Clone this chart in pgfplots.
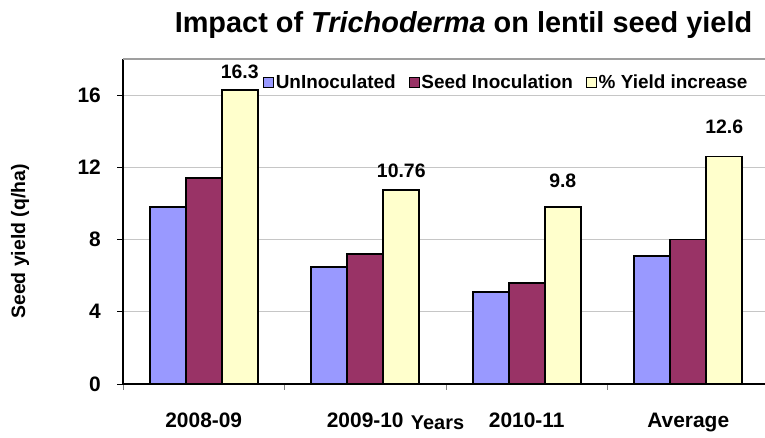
\documentclass[border=0pt]{standalone}
\usepackage{pgfplots}
\pgfplotsset{compat=1.18}
\usepackage{pgfplotstable}
\usepackage{fontspec}
\setmainfont{Liberation Sans}
\definecolor{cblue}{HTML}{9999FF}
\definecolor{cred}{HTML}{993366}
\definecolor{cyel}{HTML}{FFFFCC}
\pgfplotsset{mylegend/.style={legend image code/.code={\draw[##1,line width=0.8bp] (0bp,-5bp) rectangle (10bp,5bp);}}}
\pgfplotstableread{
x y
0 9.8
1 6.5
2 5.1
3 7.1
}\unino
\pgfplotstableread{
x y
0 11.4
1 7.2
2 5.6
3 8.0
}\seedino
\pgfplotstableread{
x y off
0 16.3 11.6
1 10.76 12.7
2 9.8 20
3 12.6 23
}\yieldinc
\begin{document}
\begin{tikzpicture}[x=1bp,y=1bp]
\path[use as bounding box] (0,0) rectangle (765,438);
\begin{axis}[
  at={(123bp,54bp)}, anchor=south west,
  scale only axis, width=646bp, height=325bp,
  xmin=-0.5, xmax=3.5, ymin=0, ymax=18,
  axis lines*=left,
  axis line style={line width=1.5bp, black},
  /pgf/number format/assume math mode=true,
  ybar, bar width=36bp,
  xtick={-0.5,0.5,1.5,2.5,3.5}, xticklabels={},
  extra x ticks={0,1,2,3},
  extra x tick labels={2008-09,2009-10,2010-11,Average},
  extra x tick style={major tick length=0pt, grid=none,
    xticklabel style={anchor=base, yshift=-44bp}},
  x tick style={gray, line width=0.8bp},
  ytick={0,4,8,12,16},
  y tick style={black, line width=0.8bp},
  ymajorgrids, grid style={gray!45, line width=0.6bp},
  tick align=outside, major tick length=6bp,
  ticklabel style={font=\bfseries\fontsize{21}{21}\selectfont},
  yticklabel style={anchor=east, inner sep=0pt, xshift=-16bp},
  legend columns=3,
  legend style={at={(0.2167,0.929)}, anchor=west, draw=none, fill=none,
    inner sep=0pt, outer sep=0pt,
    font=\bfseries\fontsize{19}{19}\selectfont,
    nodes={inner sep=2bp},
    /tikz/every even column/.append style={column sep=11bp}},
  legend cell align=left,
]
\addplot[fill=cblue, draw=black, line width=1.8bp, bar shift=-36bp, mylegend] table[x=x,y=y] {\unino};
\addlegendentry{UnInoculated}
\addplot[fill=cred, draw=black, line width=1.8bp, bar shift=0bp, mylegend] table[x=x,y=y] {\seedino};
\addlegendentry{Seed Inoculation}
\addplot[fill=cyel, draw=black, line width=1.8bp, bar shift=36bp, mylegend,
  visualization depends on={\thisrow{off} \as \labeloff},
  nodes near coords,
  every node near coord/.append style={anchor=base, inner sep=0pt, yshift=\labeloff bp,
    font=\bfseries\fontsize{19.5}{19.5}\selectfont, black}
  ] table[x=x,y=y] {\yieldinc};
\addlegendentry{\% Yield increase}
\draw[gray!75, line width=1.5bp] (rel axis cs:0,1) -- (rel axis cs:1,1);
\end{axis}
\node[anchor=base, font=\bfseries\fontsize{29}{29}\selectfont] at (463.5,405.3) {Impact of \textit{Trichoderma} on lentil seed yield};
\node[rotate=90, font=\bfseries\fontsize{19.5}{19.5}\selectfont] at (20,196.5) {Seed yield (q/ha)};
\node[anchor=base, font=\bfseries\fontsize{20}{20}\selectfont] at (437.5,8) {Years};
\end{tikzpicture}
\end{document}
